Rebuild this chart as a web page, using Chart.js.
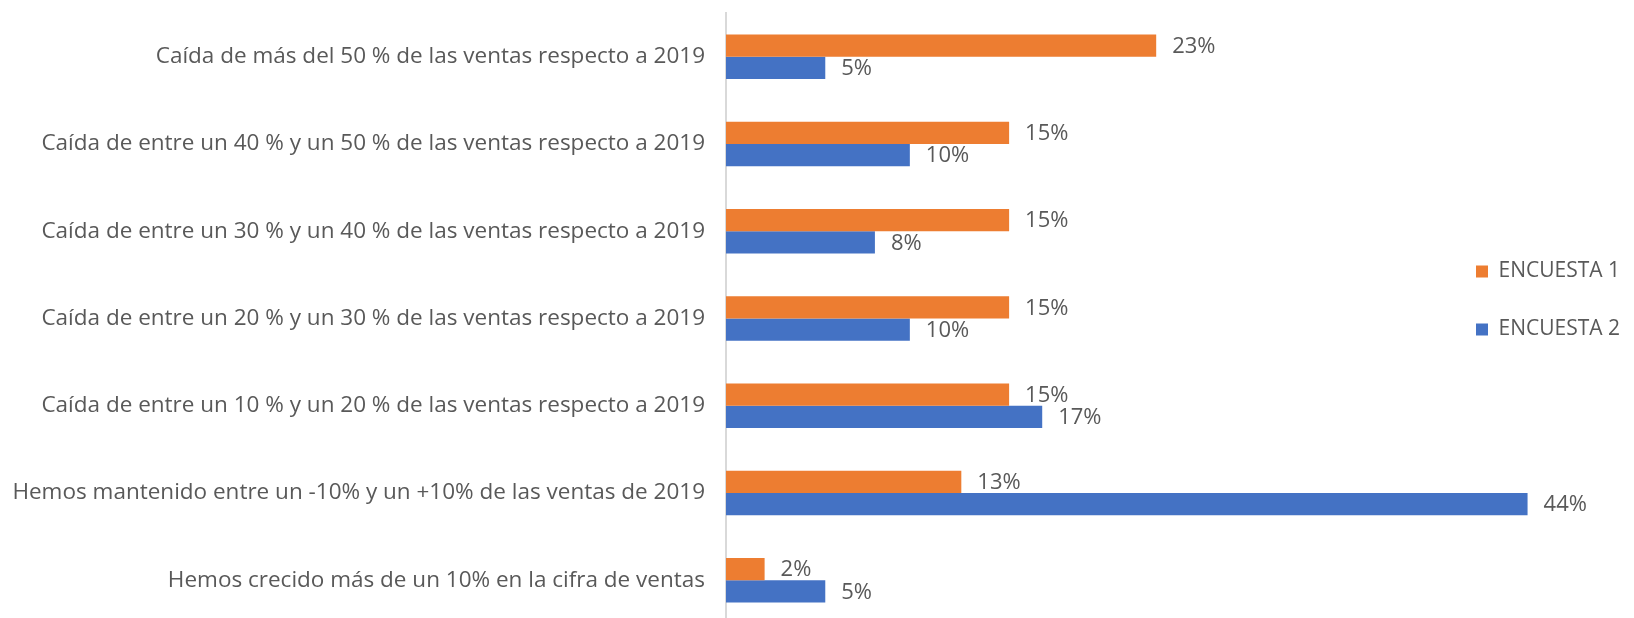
<!DOCTYPE html>
<html>
<head>
<meta charset="utf-8">
<script src="https://cdn.jsdelivr.net/npm/chart.js@4"></script>
<style>
  html, body { margin: 0; padding: 0; background: #fff; overflow: hidden; }
  #wrap { position: relative; width: 1634px; height: 624px; }
</style>
</head>
<body>
<div id="wrap"><canvas id="c"></canvas></div>
<script>
const CATEGORIES = [
  'Caída de más del 50 % de las ventas respecto a 2019',
  'Caída de entre un 40 % y un 50 % de las ventas respecto a 2019',
  'Caída de entre un 30 % y un 40 % de las ventas respecto a 2019',
  'Caída de entre un 20 % y un 30 % de las ventas respecto a 2019',
  'Caída de entre un 10 % y un 20 % de las ventas respecto a 2019',
  'Hemos mantenido entre un -10% y un +10% de las ventas de 2019',
  'Hemos crecido más de un 10% en la cifra de ventas',
];
const SERIES = ['ENCUESTA 1', 'ENCUESTA 2'];
const ENCUESTA_1 = [23.4, 15.4, 15.4, 15.4, 15.4, 12.8, 2.1];
const ENCUESTA_2 = [5.4, 10.0, 8.1, 10.0, 17.2, 43.6, 5.4];

const TEXT = '#595959';
const FONT = "'Open Sans', sans-serif";

// value labels at the end of each bar
const barLabels = {
  id: 'barLabels',
  afterDatasetsDraw(chart) {
    const ctx = chart.ctx;
    ctx.save();
    ctx.fillStyle = TEXT;
    ctx.font = `22px ${FONT}`;
    ctx.textBaseline = 'middle';
    ctx.textAlign = 'left';
    chart.data.datasets.forEach((ds, i) => {
      chart.getDatasetMeta(i).data.forEach((bar, j) => {
        ctx.fillText(Math.round(ds.data[j]) + '%', bar.x + 16, bar.y + 1);
      });
    });
    ctx.restore();
  },
};

// nudge the legend up a little
const legendShift = {
  id: 'legendShift',
  afterLayout(chart) {
    const l = chart.legend;
    l.top -= 18; l.bottom -= 18;
    l.left -= 4; l.right -= 4;
  },
};

new Chart(document.getElementById('c'), {
  type: 'bar',
  data: {
    labels: CATEGORIES,
    datasets: [
      { label: SERIES[0], data: ENCUESTA_1, backgroundColor: '#ED7D31', clip: false },
      { label: SERIES[1], data: ENCUESTA_2, backgroundColor: '#4472C4', clip: false },
    ],
  },
  options: {
    indexAxis: 'y',
    responsive: true, maintainAspectRatio: false,
    animation: false,
    layout: { padding: { top: 13, left: 0, right: 0, bottom: 0 } },
    datasets: { bar: { categoryPercentage: 0.51, barPercentage: 1 } },
    plugins: {
      tooltip: { enabled: false },
      legend: {
        position: 'right',
        labels: { color: TEXT, font: { family: FONT, size: 21 }, boxWidth: 12, boxHeight: 12, padding: 37 },
      },
    },
    scales: {
      x: { display: false, min: 0, max: 39 },
      y: {
        afterFit: (s) => { s.width = 726; s.paddingTop = 0; s.paddingBottom = 0; },
        grid: { display: false, drawTicks: false },
        border: { color: '#d9d9d9', width: 2 },
        ticks: { color: TEXT, font: { family: FONT, size: 22.5 }, padding: 21 },
      },
    },
  },
  plugins: [barLabels, legendShift],
});
</script>
</body>
</html>
